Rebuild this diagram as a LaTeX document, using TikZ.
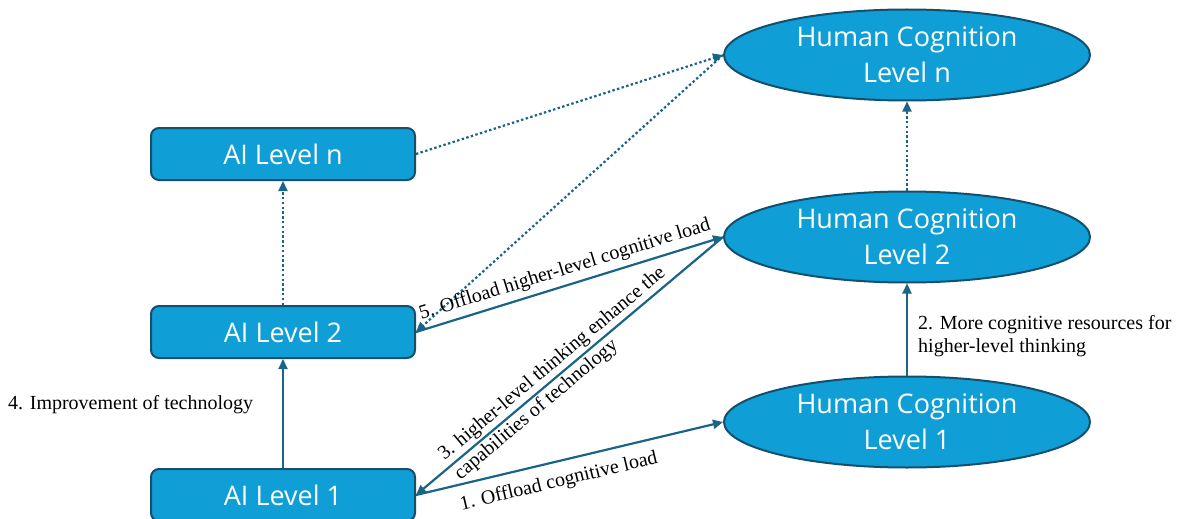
\documentclass[tikz,border=0pt]{standalone}
\usepackage{fontspec}
\setmainfont{Liberation Serif}
\newfontfamily\boxfont{Open Sans}
\usetikzlibrary{shapes.geometric,arrows.meta}
\definecolor{fillblue}{HTML}{0F9ED5}
\definecolor{edgeblue}{HTML}{14506E}
\definecolor{arrowblue}{HTML}{1A6487}
\begin{document}
\begin{tikzpicture}[x=1pt,y=-1pt,
  aibox/.style={draw=edgeblue, line width=2pt, fill=fillblue, rounded corners=8pt,
    minimum width=264pt, minimum height=52pt, text=white, inner sep=0pt,
    font=\boxfont\fontsize{27}{36}\selectfont},
  hcell/.style={ellipse, draw=edgeblue, line width=2pt, fill=fillblue,
    minimum width=366pt, minimum height=91pt, inner sep=0pt},
  hctext/.style={text=white, align=center, inner sep=0pt,
    font=\boxfont\fontsize{27}{36}\selectfont},
  conn/.style={draw=arrowblue, line width=2.2pt, -{Triangle[length=10pt,width=9pt]}},
  dotconn/.style={conn, dash pattern=on 2.4pt off 2.4pt},
  lbl/.style={font=\fontsize{20}{23}\selectfont, inner sep=1pt}
]
\useasboundingbox (0,0) rectangle (1181,519);
\fill[white] (0,0) rectangle (1181,519);
\clip (0,0) rectangle (1181,519);

\node[aibox] (ain) at (283,154) {AI Level n};
\node[aibox] (ai2) at (283,332) {AI Level 2};
\node[aibox] (ai1) at (283,495) {AI Level 1};

\node[hcell, label={[hctext]center:{Human Cognition\\Level n}}] (hcn) at (907,55) {};
\node[hcell, label={[hctext]center:{Human Cognition\\Level 2}}] (hc2) at (907,237) {};
\node[hcell, label={[hctext]center:{Human Cognition\\Level 1}}] (hc1) at (907,422) {};

\draw[conn] (ai1) -- (ai2);
\draw[dotconn] (ai2) -- (ain);
\draw[conn] (hc1) -- (hc2);
\draw[dotconn] (hc2) -- (hcn);
\draw[dotconn] (ain.east) -- (hcn.west);
\draw[dotconn] (hcn.west) -- (ai2.east);
\draw[conn] (ai2.east) -- (hc2.west)
  node[lbl, pos=0.5, sloped, above=4pt] {5. Offload higher-level cognitive load};
\draw[conn] (hc2.west) -- (ai1.east)
  node[lbl, pos=0.53, sloped, align=left, font=\fontsize{20}{25}\selectfont] {3. higher-level thinking enhance the\\capabilities of technology};
\draw[conn] (ai1.east) -- (hc1.west)
  node[lbl, pos=0.45, sloped, below=9pt] {1. Offload cognitive load};

\node[lbl, anchor=west] (l4) at (7,405) {4. Improvement of technology};
\node[lbl, align=left, anchor=north west] (l2) at (917,314) {2. More cognitive resources for\\higher-level thinking};
\end{tikzpicture}
\end{document}
